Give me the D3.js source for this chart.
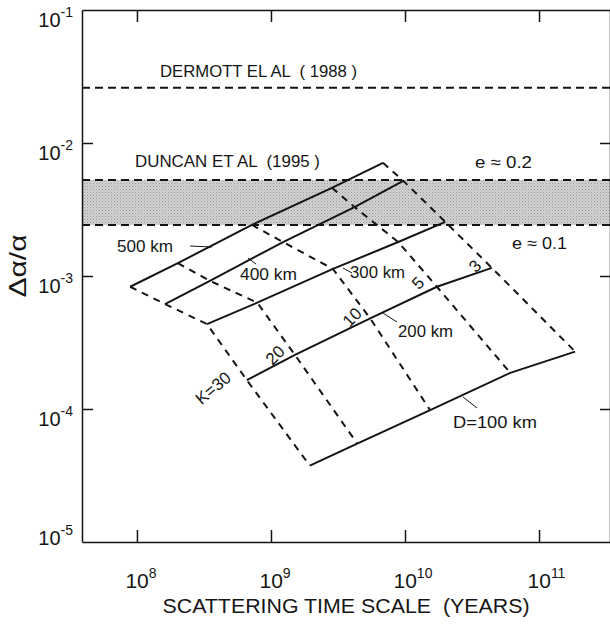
<!DOCTYPE html>
<html>
<head>
<meta charset="utf-8">
<script src="https://cdn.jsdelivr.net/npm/d3@7"></script>
<style>
  html, body { margin: 0; padding: 0; background: #fff; }
  svg { display: block; }
  text { font-family: "Liberation Sans", Arial, Helvetica, sans-serif; fill: #161616; }
</style>
</head>
<body>
<svg id="chart" width="610" height="625"></svg>
<script>
// ---- data ----
const kValues = [30, 20, 10, 5, 3];
const kLabels = ["K=30", "20", "10", "5", "3"];
const diameters = ["500 km", "400 km", "300 km", "200 km", "D=100 km"];

// scattering time scale (years) for K = 30, 20, 10, 5, 3
const time500 = [8.9e7, 2.02e8, 7.2e8, 2.85e9, 6.85e9];
const time400 = [1.62e8, 3.5e8, 1.23e9, 4.2e9, 9.7e9];
const time300 = [3.33e8, 7.9e8, 2.9e9, 8.9e9, 2.0e10];
const time200 = [6.6e8, 1.51e9, 5.5e9, 1.73e10, 4.45e10];
const time100 = [1.95e9, 4.4e9, 1.54e10, 6.1e10, 1.86e11];

// Δa/a for K = 30, 20, 10, 5, 3
const ratio500 = [8.3e-4, 1.25e-3, 2.42e-3, 4.6e-3, 7.1e-3];
const ratio400 = [6.15e-4, 9.2e-4, 1.8e-3, 3.3e-3, 5.2e-3];
const ratio300 = [4.35e-4, 6.3e-4, 1.13e-3, 1.8e-3, 2.55e-3];
const ratio200 = [1.65e-4, 2.55e-4, 4.8e-4, 8.3e-4, 1.15e-3];
const ratio100 = [3.75e-5, 5.5e-5, 9.8e-5, 1.87e-4, 2.7e-4];

const dermottLevel = 0.026;
const duncanBand = [0.00242, 0.00527];

const xTicks = [1e8, 1e9, 1e10, 1e11];
const xTickExp = ["8", "9", "10", "11"];
const yTicks = [1e-1, 1e-2, 1e-3, 1e-4, 1e-5];
const yTickExp = ["-1", "-2", "-3", "-4", "-5"];

// ---- chart ----
const svg = d3.select("#chart");
const L = 82, R = 611, T = 10, B = 542;

const x = d3.scaleLog().domain([Math.pow(10, 7.59), Math.pow(10, 11.537)]).range([L, R]);
const y = d3.scaleLog().domain([1e-5, 1e-1]).range([B, T]);

const ink = "#141414";

// shaded band (Duncan et al)
const defs = svg.append("defs");
const pat = defs.append("pattern").attr("id", "stip").attr("width", 3).attr("height", 3)
  .attr("patternUnits", "userSpaceOnUse");
pat.append("rect").attr("width", 3).attr("height", 3).attr("fill", "#d2d2d2");
pat.append("rect").attr("x", 0).attr("y", 0).attr("width", 1).attr("height", 1).attr("fill", "#9a9a9a");
pat.append("rect").attr("x", 1.5).attr("y", 1.5).attr("width", 1).attr("height", 1).attr("fill", "#b0b0b0");

svg.append("rect")
  .attr("x", L).attr("width", R - L)
  .attr("y", y(duncanBand[1])).attr("height", y(duncanBand[0]) - y(duncanBand[1]))
  .attr("fill", "url(#stip)");

// horizontal dashed reference lines
[dermottLevel, duncanBand[0], duncanBand[1]].forEach(v => {
  svg.append("line")
    .attr("x1", L).attr("x2", R).attr("y1", y(v)).attr("y2", y(v))
    .attr("stroke", ink).attr("stroke-width", 2).attr("stroke-dasharray", "8,5");
});

// axes (inward ticks)
const gB = svg.append("g").attr("transform", `translate(0,${B})`)
  .call(d3.axisBottom(x).tickValues(xTicks).tickSizeInner(-12).tickSizeOuter(0).tickFormat(""));
const gT = svg.append("g").attr("transform", `translate(0,${T})`)
  .call(d3.axisTop(x).tickValues(xTicks).tickSizeInner(-12).tickSizeOuter(0).tickFormat(""));
const gL = svg.append("g").attr("transform", `translate(${L},0)`)
  .call(d3.axisLeft(y).tickValues(yTicks.slice(1, 4)).tickSizeInner(-11).tickSizeOuter(0).tickFormat(""));
const gR = svg.append("g").attr("transform", `translate(${R - 1},0)`)
  .call(d3.axisRight(y).tickValues(yTicks.slice(1, 4)).tickSizeInner(-10).tickSizeOuter(0).tickFormat(""));
[gB, gT, gL, gR].forEach(g => {
  g.selectAll("path").attr("stroke", ink).attr("stroke-width", 1.5);
  g.selectAll("line").attr("stroke", ink).attr("stroke-width", 1.5);
});

// x tick labels
xTicks.forEach((t, i) => {
  const tx = svg.append("text").attr("y", 588).attr("font-size", 21);
  tx.append("tspan").attr("x", x(t) - 11.5).text("10");
  tx.append("tspan").attr("dy", -10).attr("font-size", 14).text(xTickExp[i]);
});
// y tick labels
yTicks.forEach((v, i) => {
  const off = i === yTicks.length - 1 ? 3 : 17;
  const tx = svg.append("text").attr("y", y(v) + off).attr("font-size", 20)
    .attr("text-anchor", "end").attr("x", 73);
  tx.append("tspan").text("10");
  tx.append("tspan").attr("dy", -10).attr("font-size", 14).text(yTickExp[i]);
});

// axis titles
svg.append("text").attr("x", 346).attr("y", 613).attr("text-anchor", "middle")
  .attr("font-size", 20).style("white-space", "pre")
  .attr("textLength", 367).attr("lengthAdjust", "spacingAndGlyphs")
  .text("SCATTERING TIME SCALE  (YEARS)");
svg.append("text")
  .attr("transform", "translate(26,266) rotate(-90)")
  .attr("text-anchor", "middle")
  .attr("font-family", "'Liberation Serif', 'Times New Roman', serif")
  .attr("font-size", 24)
  .attr("textLength", 63).attr("lengthAdjust", "spacingAndGlyphs")
  .text("Δα/α");

// constant-D (solid) and constant-K (dashed) curves
const times = [time500, time400, time300, time200, time100];
const ratios = [ratio500, ratio400, ratio300, ratio200, ratio100];
const line = d3.line().x(d => x(d[0])).y(d => y(d[1]));

kValues.forEach((k, j) => {
  const pts = times.map((tArr, i) => [tArr[j], ratios[i][j]]);
  svg.append("path").attr("d", line(pts)).attr("fill", "none")
    .attr("stroke", ink).attr("stroke-width", 2).attr("stroke-dasharray", "7,6");
});
times.forEach((tArr, i) => {
  const pts = tArr.map((t, j) => [t, ratios[i][j]]);
  svg.append("path").attr("d", line(pts)).attr("fill", "none")
    .attr("stroke", ink).attr("stroke-width", 2);
});

// reference labels
const lbl = (txt, px, py, fs, w) => {
  const t = svg.append("text").attr("x", px).attr("y", py)
    .attr("font-size", fs).style("white-space", "pre").text(txt);
  if (w) t.attr("textLength", w).attr("lengthAdjust", "spacingAndGlyphs");
  return t;
};
lbl("DERMOTT EL AL  ( 1988 )", 160, 77, 17, 197);
lbl("DUNCAN ET AL  (1995 )", 135, 167, 17, 185);
lbl("e \u2248 0.2", 475, 168, 17, 57);
lbl("e \u2248 0.1", 512, 249, 17, 55);

// diameter labels with leaders
const dLabelPos = [[117, 252], [240, 280], [350, 278], [398, 337], [453, 428]];
const dLabelW = [56, 57, 55, 55, 84];
const leaders = [[190, 246, 212, 247], [248, 258, 256, 264], [343, 268, 352, 273], [383, 313, 397, 322], [463, 397, 477, 408]];
diameters.forEach((d, i) => {
  lbl(d, dLabelPos[i][0], dLabelPos[i][1], 17, dLabelW[i]);
  const l = leaders[i];
  svg.append("line").attr("x1", l[0]).attr("y1", l[1]).attr("x2", l[2]).attr("y2", l[3])
    .attr("stroke", ink).attr("stroke-width", 1);
});

// K labels (rotated)
const kLabelPos = [[213, 388, -40], [275, 355, -45], [352, 317, -45], [418, 283, -45], [475, 266, -45]];
kLabels.forEach((k, i) => {
  const p = kLabelPos[i];
  svg.append("text").attr("transform", `translate(${p[0]},${p[1]}) rotate(${p[2]})`)
    .attr("text-anchor", "middle").attr("dy", "0.35em").attr("font-size", 17).text(k);
});
</script>
</body>
</html>
